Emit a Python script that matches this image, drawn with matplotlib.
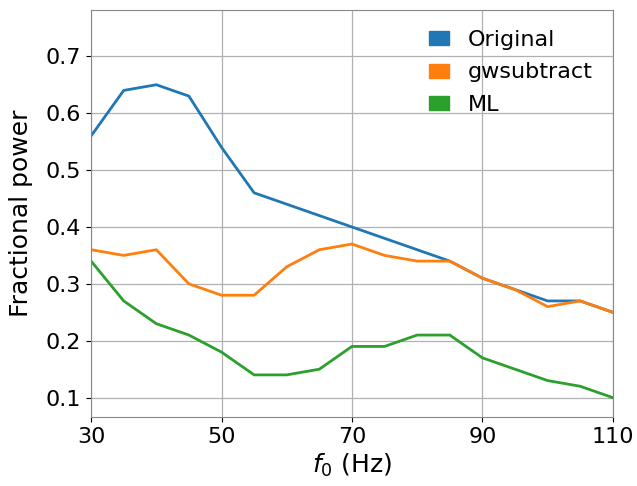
import numpy as np
from matplotlib import pyplot as plt
from matplotlib.patches import Patch

# Данные
f0 = [30, 35, 40, 45, 50, 55, 60, 65, 70, 75, 80, 85, 90, 95, 100, 105, 110]
original = [0.56, 0.64, 0.65, 0.63, 0.54, 0.46, 0.44, 0.42, 0.40, 0.38, 0.36, 0.34, 0.31, 0.29, 0.27, 0.27, 0.25]
gwsubtract = [0.36, 0.35, 0.36, 0.30, 0.28, 0.28, 0.33, 0.36, 0.37, 0.35, 0.34, 0.34, 0.31, 0.29, 0.26, 0.27, 0.25]
ml = [0.34, 0.27, 0.23, 0.21, 0.18, 0.14, 0.14, 0.15, 0.19, 0.19, 0.21, 0.21, 0.17, 0.15, 0.13, 0.12, 0.10]
labels = ['Original', 'gwsubtract', 'ML']
colors = ['#1f77b4', '#ff7f0e', '#2ca02c']

fig, ax = plt.subplots(figsize=(6.37, 4.86), dpi=100)
for y, c in zip([original, gwsubtract, ml], colors):
    ax.plot(f0, y, color=c, linewidth=2)

ax.set_xlim(30, 110)
ax.set_ylim(0.066, 0.781)
ax.set_xticks([30, 50, 70, 90, 110])
ax.set_yticks([0.1, 0.2, 0.3, 0.4, 0.5, 0.6, 0.7])
ax.tick_params(labelsize=16)
ax.grid(True, color='#b0b0b0', linewidth=0.9)
for s in ax.spines.values():
    s.set_color('#888888')
ax.set_xlabel('$f_0$ (Hz)', fontsize=18)
ax.set_ylabel('Fractional power', fontsize=18, labelpad=9)

handles = [Patch(color=c, label=l) for c, l in zip(colors, labels)]
ax.legend(handles=handles, frameon=False, fontsize=16, loc='upper right',
          handlelength=0.9, handleheight=0.6, labelspacing=0.55,
          handletextpad=0.85, bbox_to_anchor=(1.0, 1.0))

fig.subplots_adjust(left=0.143, right=0.962, top=0.979, bottom=0.142)
fig.savefig('out.png')
